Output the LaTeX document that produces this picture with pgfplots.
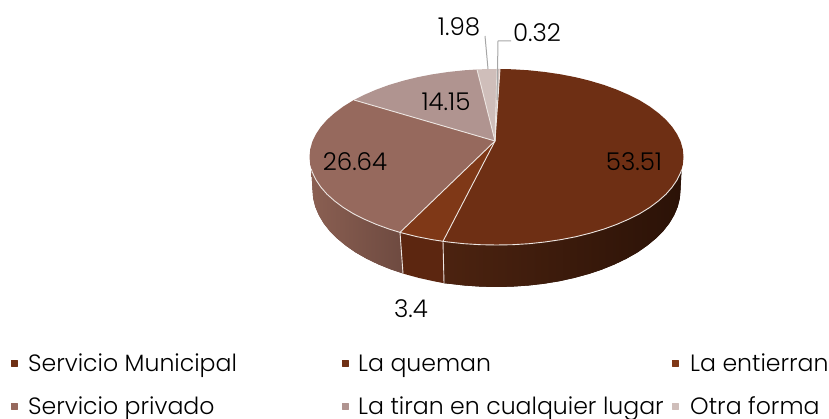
\documentclass[border=0pt]{standalone}
\usepackage{fontspec}
\setmainfont{Poppins Light}
\usepackage{pgfplots}
\pgfplotsset{compat=1.18}
\definecolor{cMun}{HTML}{6E2F14}
\definecolor{cQue}{HTML}{6F3015}
\definecolor{cEnt}{HTML}{7F3817}
\definecolor{cPri}{HTML}{96695D}
\definecolor{cTir}{HTML}{B09490}
\definecolor{cOtr}{HTML}{CFBEBA}
\definecolor{rim}{HTML}{EDE6E2}
\definecolor{lead}{HTML}{A6A6A6}
\definecolor{wMunL}{HTML}{4C2310}
\definecolor{wMunM}{HTML}{301508}
\definecolor{wMunR}{HTML}{2B1207}
\definecolor{wEnt}{HTML}{5C2610}
\definecolor{wPriL}{HTML}{8A5F52}
\definecolor{wPriR}{HTML}{6E4A40}
\newcommand{\lab}{\fontsize{24.5}{28}\selectfont}
\newcommand{\leg}{\fontsize{23.6}{28}\selectfont}
\begin{document}
\begin{tikzpicture}
\path[use as bounding box] (0,0) rectangle (829pt,419pt);
\begin{axis}[at={(0,0)},anchor=south west,scale only axis,width=829pt,height=419pt,
  xmin=0,xmax=829,ymin=0,ymax=419,y dir=reverse,hide axis,clip=false,
  every axis plot/.append style={line join=round}]
% side walls
\addplot[draw=none,fill=wMunR,left color=wMunL,middle color=wMunM,right color=wMunR] coordinates {
(681.5,170)(680.5,190)(679.8,198.5)(677.7,206.8)(674.2,215.1)(669.4,223.2)(663.3,231)(655.8,238.5)(647.2,245.6)(637.5,252.4)(626.6,258.6)(614.8,264.3)(602,269.5)(588.5,274)(574.3,277.9)(559.4,281.2)(544.1,283.7)(528.5,285.5)(512.5,286.6)(496.5,287)(480.5,286.6)(464.5,285.5)(448.9,283.7)(444,283.2)(443,241.3)};
\addplot[draw=none,fill=wEnt] coordinates {
(443,241.3)(444,283.2)(433.6,281.2)(418.7,277.9)(404.5,274)(403,273.5)(400,232.4)};
\addplot[draw=none,fill=wPriR,left color=wPriL,right color=wPriR] coordinates {
(400,232.4)(403,273.5)(391,269.5)(378.2,264.3)(366.4,258.6)(355.5,252.4)(345.8,245.6)(337.2,238.5)(329.7,231)(323.6,223.2)(318.8,215.1)(315.3,206.8)(313.2,198.5)(312.5,190)(311.3,169)};
% top faces
\addplot[draw=none,fill=cMun] coordinates {
(495,141)(500,69)(512.8,69.3)(529,70.3)(544.9,72)(560.5,74.3)(575.5,77.2)(590,80.8)(603.8,84.9)(616.7,89.6)(628.7,94.8)(639.8,100.4)(649.7,106.5)(658.4,113)(666,119.8)(672.2,126.9)(677.1,134.2)(680.7,141.7)(682.8,149.3)(683.5,157)(682.8,164.7)(680.7,172.3)(677.1,179.8)(672.2,187.1)(666,194.2)(658.4,201)(649.7,207.5)(639.8,213.6)(628.7,219.2)(616.7,224.4)(603.8,229.1)(590,233.2)(575.5,236.8)(560.5,239.7)(544.9,242)(529,243.7)(512.8,244.7)(496.5,245)(480.2,244.7)(464,243.7)(448.1,242)(443,241.3)};
\addplot[draw=none,fill=cEnt] coordinates {
(495,141)(443,241.3)(432.5,239.7)(417.5,236.8)(403,233.2)(400,232.4)};
\addplot[draw=none,fill=cPri] coordinates {
(495,141)(400,232.4)(389.2,229.1)(376.3,224.4)(364.3,219.2)(353.2,213.6)(343.3,207.5)(334.6,201)(327,194.2)(320.8,187.1)(315.9,179.8)(312.3,172.3)(310.2,164.7)(309.5,157)(310.2,149.3)(312.3,141.7)(315.9,134.2)(320.8,126.9)(327,119.8)(334.6,113)(343.3,106.5)(353.2,100.4)(354,100)};
\addplot[draw=none,fill=cTir] coordinates {
(495,141)(354,100)(364.3,94.8)(376.3,89.6)(389.2,84.9)(403,80.8)(417.5,77.2)(432.5,74.3)(448.1,72)(464,70.3)(477,69.5)};
\addplot[draw=none,fill=cOtr] coordinates {
(495,141)(477,69.5)(480.2,69.3)(490,69.05)(497,69)};
\addplot[draw=none,fill=cOtr] coordinates {
(495,141)(497,69)(500,69)};
% slice borders
\pgfplotsset{border/.style={draw=rim,line width=0.9pt,no markers}}
\addplot[border] coordinates {(681.5,170)(680.7,172.3)(677.1,179.8)(672.2,187.1)(666,194.2)(658.4,201)(649.7,207.5)(639.8,213.6)(628.7,219.2)(616.7,224.4)(603.8,229.1)(590,233.2)(575.5,236.8)(560.5,239.7)(544.9,242)(529,243.7)(512.8,244.7)(496.5,245)(480.2,244.7)(464,243.7)(448.1,242)(443,241.3)(432.5,239.7)(417.5,236.8)(403,233.2)(400,232.4)(389.2,229.1)(376.3,224.4)(364.3,219.2)(353.2,213.6)(343.3,207.5)(334.6,201)(327,194.2)(320.8,187.1)(315.9,179.8)(312.3,172.3)(311.3,169)};
\addplot[border] coordinates {(495,141)(443,241.3)(444,283.2)};
\addplot[border] coordinates {(495,141)(400,232.4)(403,273.5)};
\addplot[border] coordinates {(495,141)(354,100)};
\addplot[border] coordinates {(495,141)(477,69.5)};
\addplot[border] coordinates {(495,141)(497,69)};
\addplot[border] coordinates {(495,141)(500,69)};
% leader lines
\addplot[draw=lead,line width=1pt,no markers] coordinates {(485,36)(488,69)};
\addplot[draw=lead,line width=1pt,no markers] coordinates {(511,41)(498,41)(497,100)};
% legend swatches
\addplot[only marks,mark=square*,mark size=3.3pt,color=cMun] coordinates {(14,363)};
\addplot[only marks,mark=square*,mark size=3.3pt,color=cQue] coordinates {(345,363)};
\addplot[only marks,mark=square*,mark size=3.3pt,color=cEnt] coordinates {(675,363)};
\addplot[only marks,mark=square*,mark size=3.3pt,color=cPri] coordinates {(14,406)};
\addplot[only marks,mark=square*,mark size=3.3pt,color=cTir] coordinates {(345,406)};
\addplot[only marks,mark=square*,mark size=3.3pt,color=cOtr] coordinates {(675,406)};
% data labels
\node[font=\lab] at (axis cs:634,162) {53.51};
\node[font=\lab] at (axis cs:355,162) {26.64};
\node[font=\lab] at (axis cs:446,102) {14.15};
\node[font=\lab] at (axis cs:459,27) {1.98};
\node[font=\lab] at (axis cs:537,33) {0.32};
\node[font=\lab] at (axis cs:411,309) {3.4};
% legend text
\node[font=\leg,anchor=base west,inner sep=0pt] at (axis cs:28,371) {Servicio Municipal};
\node[font=\leg,anchor=base west,inner sep=0pt] at (axis cs:358,371) {La queman};
\node[font=\leg,anchor=base west,inner sep=0pt] at (axis cs:690,371) {La entierran};
\node[font=\leg,anchor=base west,inner sep=0pt] at (axis cs:28,414) {Servicio privado};
\node[font=\leg,anchor=base west,inner sep=0pt] at (axis cs:358,414) {La tiran en cualquier lugar};
\node[font=\leg,anchor=base west,inner sep=0pt] at (axis cs:690,414) {Otra forma};
\end{axis}
\end{tikzpicture}
\end{document}
